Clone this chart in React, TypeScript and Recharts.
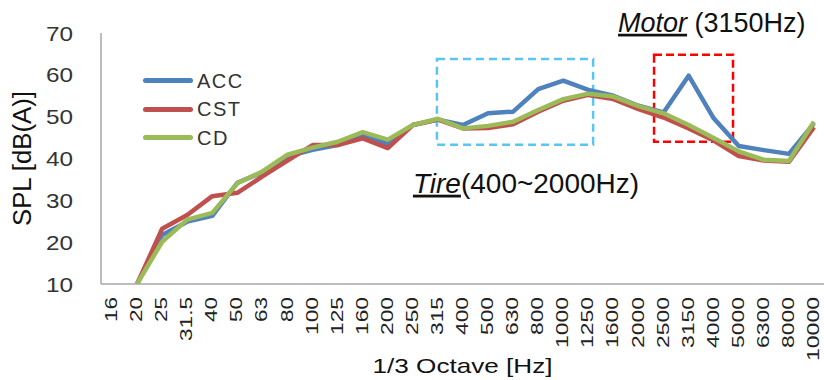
import React from 'react';
import { LineChart, Line, XAxis, YAxis, ReferenceArea, Legend } from 'recharts';

const frequencies = ['16', '20', '25', '31.5', '40', '50', '63', '80', '100', '125', '160', '200', '250', '315', '400', '500', '630', '800', '1000', '1250', '1600', '2000', '2500', '3150', '4000', '5000', '6300', '8000', '10000'];
const accValues = [null, 10, 21.7, 24.9, 26.3, 34.2, 36.7, 40.5, 42.1, 43.2, 45.6, 43.5, 48, 49.3, 48, 50.8, 51.2, 56.6, 58.6, 56.4, 55, 52.6, 51, 59.8, 49.6, 43, 42, 41.1, 48.4];
const cstValues = [null, 10, 23.2, 26.5, 31, 31.8, 35.7, 39.5, 43.2, 43.2, 44.8, 42.5, 48, 49.3, 47.2, 47.3, 48.2, 51.2, 53.8, 55.2, 54.2, 51.8, 49.8, 47.2, 44.3, 40.6, 39.5, 39.2, 47.5];
const cdValues = [null, 10, 20.1, 25.4, 27, 34.1, 36.9, 40.9, 42.6, 44, 46.3, 44.5, 48, 49.5, 47.2, 47.8, 48.8, 51.6, 54.2, 55.5, 54.8, 52.5, 50.8, 48, 44.9, 41.7, 39.7, 39.4, 48.8];
const yTicks = [10, 20, 30, 40, 50, 60, 70];
const seriesNames = ['ACC', 'CST', 'CD'];
const seriesColors = ['#4F81BD', '#C0504D', '#9BBB59'];
// annotation boxes in category-index space (x) and dB (y)
const tireBox = { x1: 12.96, x2: 19.19, y1: 43.3, y2: 63.8 };
const motorBox = { x1: 21.62, x2: 24.77, y1: 44, y2: 64.8 };

const data = frequencies.map((f, i) => ({
  f,
  idx: i,
  ACC: accValues[i],
  CST: cstValues[i],
  CD: cdValues[i],
}));

const FONT = '"Liberation Sans", Arial, sans-serif';

const XTick = (props: any) => {
  const { x, y, payload } = props;
  const s = String(payload.value);
  let len = 0;
  for (const c of s) len += c === '.' ? 6 : 13;
  return (
    <g transform={`translate(${x + 5},${y + 13}) rotate(-90)`}>
      <text x={0} y={0} textAnchor="end" fontSize={17} fontFamily={FONT} fill="#222" textLength={len - 1} lengthAdjust="spacingAndGlyphs">
        {s}
      </text>
    </g>
  );
};

const YTick = (props: any) => {
  const { x, y, payload } = props;
  return (
    <text x={x - 28} y={y + 7.5} textAnchor="end" fontSize={21} fontFamily={FONT} fill="#333" textLength={27} lengthAdjust="spacingAndGlyphs">
      {payload.value}
    </text>
  );
};

const YTitle = (props: any) => {
  const vb = props.viewBox || { x: 0, y: 33, width: 101, height: 251 };
  const cx = vb.x + 31;
  const cy = vb.y + vb.height / 2;
  return (
    <text x={cx} y={cy} transform={`rotate(-90,${cx},${cy})`} textAnchor="middle" fontSize={25} fontFamily={FONT} fill="#111" textLength={135} lengthAdjust="spacingAndGlyphs">
      SPL [dB(A)]
    </text>
  );
};

const XTitle = (props: any) => {
  const vb = props.viewBox || { x: 101, y: 284, width: 723, height: 96 };
  return (
    <text x={vb.x + vb.width / 2} y={vb.y + 89} textAnchor="middle" fontSize={21} fontFamily={FONT} fill="#111" textLength={180} lengthAdjust="spacingAndGlyphs">
      1/3 Octave [Hz]
    </text>
  );
};

const TireLabel = (props: any) => {
  const vb = props.viewBox;
  if (!vb) return null;
  return (
    <text x={vb.x - 24} y={vb.y + vb.height + 48} fontSize={28} fontFamily={FONT} fill="#111">
      <tspan fontStyle="italic" style={{ textDecoration: 'underline' }}>Tire</tspan>
      <tspan>(400~2000Hz)</tspan>
    </text>
  );
};

const MotorLabel = (props: any) => {
  const vb = props.viewBox;
  if (!vb) return null;
  return (
    <text x={vb.x - 36} y={vb.y - 23} fontSize={27} fontFamily={FONT} fill="#111">
      <tspan fontStyle="italic" style={{ textDecoration: 'underline' }}>Motor</tspan>
      <tspan> (3150Hz)</tspan>
    </text>
  );
};

const LegendContent = () => (
  <div style={{ fontFamily: FONT }}>
    {seriesNames.map((n, i) => (
      <div key={n} style={{ display: 'flex', alignItems: 'center', height: 28.5 }}>
        <div style={{ width: 50, height: 5, borderRadius: 2.5, background: seriesColors[i] }} />
        <span style={{ marginLeft: 4, fontSize: 20, color: '#333', letterSpacing: 1.5, lineHeight: '28.5px' }}>{n}</span>
      </div>
    ))}
  </div>
);

export default function App() {
  return (
    <div style={{ position: 'absolute', left: 0, top: 0, width: 824, height: 380, background: '#fff' }}>
      <LineChart width={824} height={380} data={data} margin={{ top: 33, right: 0, bottom: 0, left: 0 }}>
        <XAxis
          dataKey="f"
          type="category"
          interval={0}
          height={96}
          padding={{ left: 11, right: 10 }}
          tickLine={false}
          tickSize={0}
          tickMargin={0}
          axisLine={{ stroke: '#a6a6a6', strokeWidth: 1.5 }}
          tick={<XTick />}
          label={{ content: XTitle } as any}
        />
        <XAxis xAxisId="num" dataKey="idx" type="number" domain={[0, 28]} hide padding={{ left: 11, right: 10 }} />
        <YAxis
          domain={[10, 70]}
          ticks={yTicks}
          width={101}
          tickLine={false}
          tickSize={0}
          tickMargin={0}
          allowDataOverflow
          axisLine={{ stroke: '#a6a6a6', strokeWidth: 1.5 }}
          tick={<YTick />}
          label={{ content: YTitle } as any}
        />
        <ReferenceArea
          xAxisId="num"
          x1={tireBox.x1}
          x2={tireBox.x2}
          y1={tireBox.y1}
          y2={tireBox.y2}
          fill="none"
          fillOpacity={0}
          stroke="#5BC5F2"
          strokeWidth={2.5}
          strokeDasharray="8 5"
          label={TireLabel as any}
        />
        <ReferenceArea
          xAxisId="num"
          x1={motorBox.x1}
          x2={motorBox.x2}
          y1={motorBox.y1}
          y2={motorBox.y2}
          fill="none"
          fillOpacity={0}
          stroke="#FF0000"
          strokeWidth={2.5}
          strokeDasharray="8 4"
          label={MotorLabel as any}
        />
        {seriesNames.map((n, i) => (
          <Line
            key={n}
            type="linear"
            dataKey={n}
            stroke={seriesColors[i]}
            strokeWidth={4.5}
            strokeLinejoin="round"
            dot={false}
            activeDot={false}
            isAnimationActive={false}
          />
        ))}
        <Legend
          layout="vertical"
          align="center"
          verticalAlign="middle"
          wrapperStyle={{ left: 143, top: 66.5, width: 'auto', height: 'auto' }}
          content={<LegendContent />}
        />
      </LineChart>
    </div>
  );
}
